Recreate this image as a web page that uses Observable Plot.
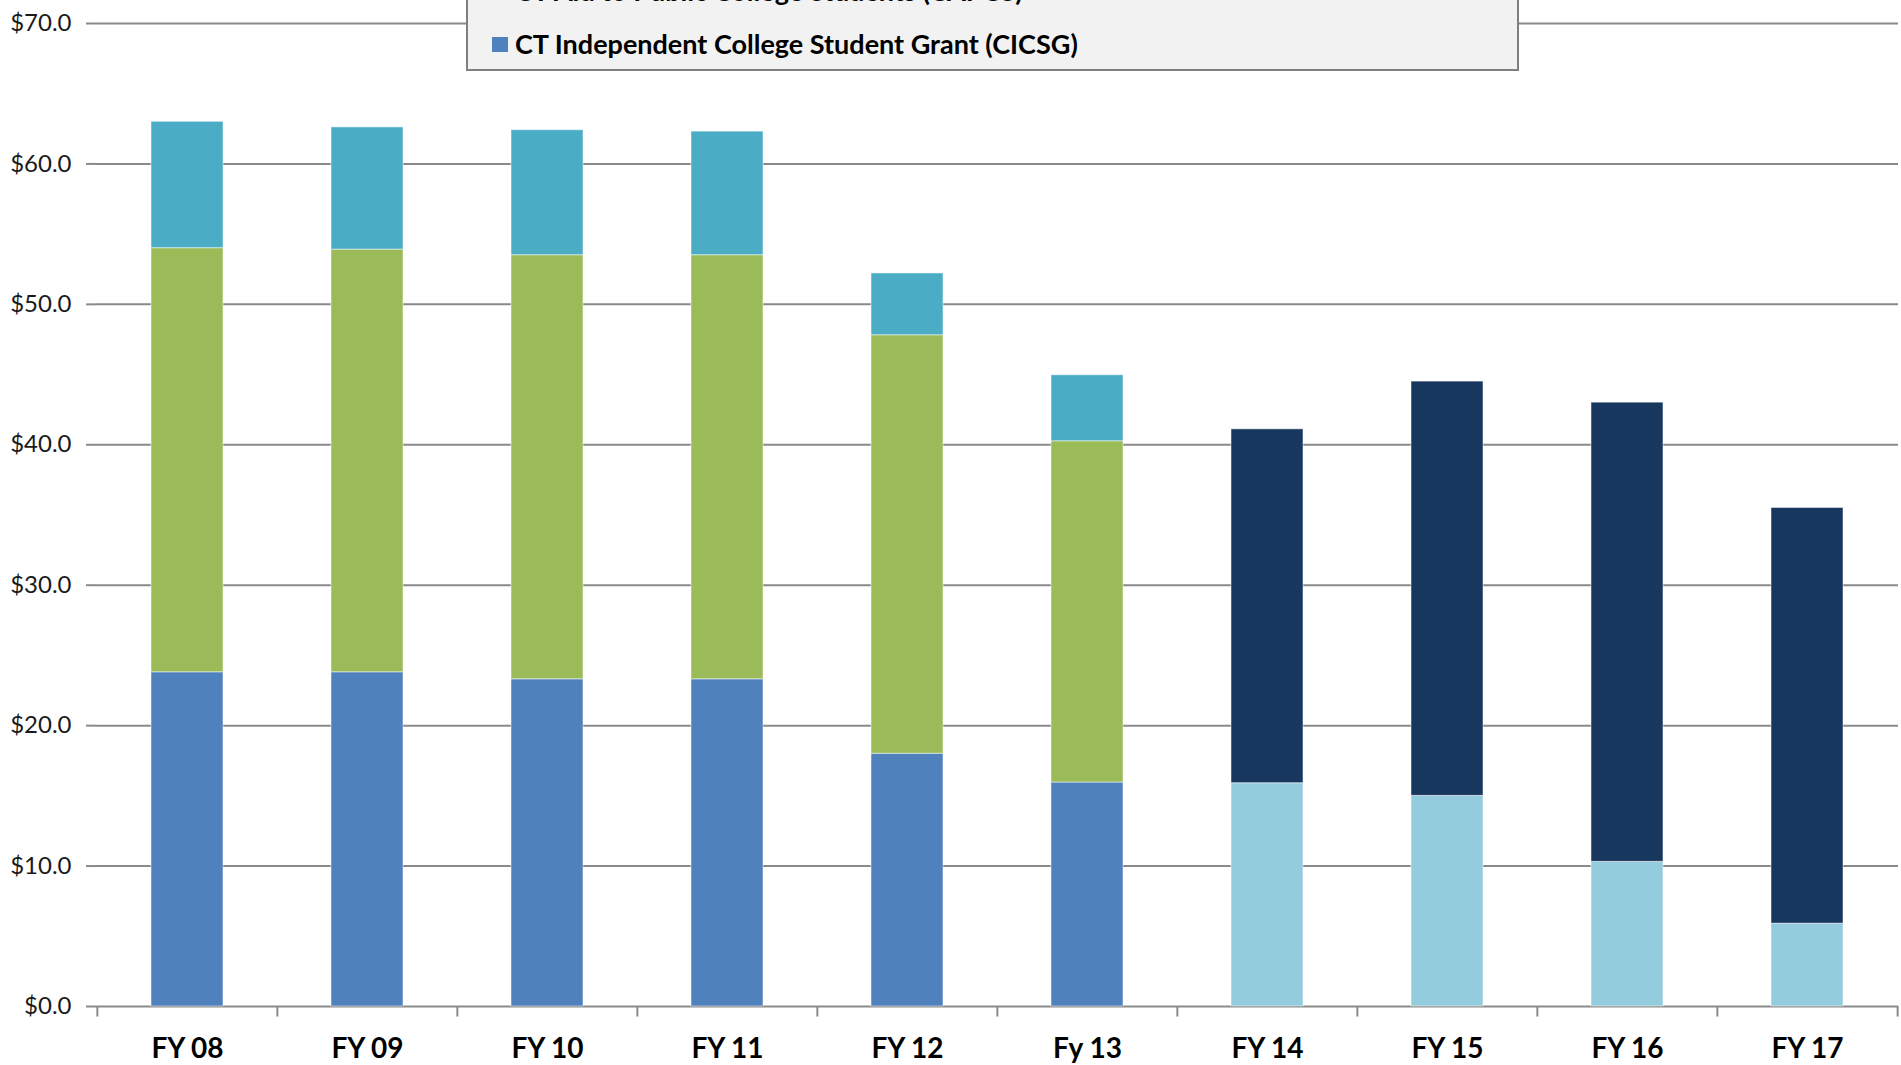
<!DOCTYPE html>
<html>
<head>
<meta charset="utf-8">
<script src="https://cdn.jsdelivr.net/npm/d3@7"></script>
<script src="https://cdn.jsdelivr.net/npm/@observablehq/plot@0.6"></script>
<style>
  html, body { margin: 0; padding: 0; background: #fff; overflow: hidden; }
  #wrap { position: relative; width: 1901px; height: 1065px; overflow: hidden; }
  #legend { position: absolute; left: 0; top: 0; }
</style>
</head>
<body>
<div id="wrap"></div>
<script>
// ---- data ----
const years = ["FY 08", "FY 09", "FY 10", "FY 11", "FY 12", "Fy 13", "FY 14", "FY 15", "FY 16", "FY 17"];
const seriesNames = [
  "CT Independent College Student Grant (CICSG)",
  "CT Aid to Public College Students (CAPCS)",
  "Capitol Scholarship",
  "Governor's Scholarship (part A)",
  "Governor's Scholarship (part B)"
];
const cicsg   = [23.8, 23.8, 23.3, 23.3, 18.0, 15.95, 0, 0, 0, 0];
const capcs   = [30.2, 30.1, 30.2, 30.2, 29.8, 24.3, 0, 0, 0, 0];
const capitol = [9.0, 8.7, 8.9, 8.8, 4.4, 4.7, 0, 0, 0, 0];
const govA    = [0, 0, 0, 0, 0, 0, 15.9, 15.0, 10.3, 5.9];
const govB    = [0, 0, 0, 0, 0, 0, 25.2, 29.5, 32.7, 29.6];
const seriesColors = ["#4F81BD", "#9BBB59", "#4BACC6", "#93CDDD", "#17375E"];
const yTicks = [0, 10, 20, 30, 40, 50, 60, 70];
const legendShown = [0, 1]; // bottom-most legend entry first, then the one above it

const seriesValues = [cicsg, capcs, capitol, govA, govB];
const table = [];
seriesValues.forEach((vals, si) => {
  vals.forEach((v, i) => table.push({year: years[i], series: seriesNames[si], value: v}));
});

const W = 1901, H = 1065;
const mL = 95, mR = 3, mT = 23, mB = 59;
const step = (W - mL - mR) / years.length;
const grey = "#8a8a8a";

const chart = Plot.plot({
  width: W,
  height: H,
  marginLeft: mL,
  marginRight: mR,
  marginTop: mT,
  marginBottom: mB,
  style: {background: "#fff", overflow: "visible"},
  x: {domain: years, paddingInner: 0.6, paddingOuter: 0.3, label: null},
  y: {domain: [0, 70], label: null},
  color: {domain: seriesNames, range: seriesColors},
  marks: [
    Plot.gridY(yTicks, {stroke: grey, strokeOpacity: 1, strokeWidth: 2}),
    Plot.barY(table, {
      x: "year", y: "value", fill: "series", order: seriesNames,
      stroke: "#ffffff", strokeOpacity: 0.5, strokeWidth: 1
    }),
    // y axis line
    Plot.ruleX([years[0]], {x: years[0], dx: -step / 2, y1: 0, y2: 70, stroke: grey, strokeWidth: 2}),
    // category boundary ticks
    Plot.ruleX(years, {x: d => d, dx: -step / 2, y1: 0, y2: -0.75, stroke: grey, strokeWidth: 2}),
    Plot.ruleX([years[years.length - 1]], {x: d => d, dx: step / 2, y1: 0, y2: -0.75, stroke: grey, strokeWidth: 2}),
    Plot.axisY({
      ticks: yTicks, tickSize: 9, tickPadding: 15, stroke: grey, strokeWidth: 2,
      tickFormat: d => "$" + d.toFixed(1),
      fontSize: 24, fontFamily: "Lato", fill: "#1a1a1a", label: null
    }),
    Plot.axisX({
      tickSize: 0, tickPadding: 32, fontSize: 28, fontFamily: "Lato", fontWeight: "bold",
      fill: "#000", label: null
    })
  ]
});

const wrap = document.getElementById("wrap");
wrap.appendChild(chart);

// ---- legend (box sits partly above the visible area) ----
const ns = "http://www.w3.org/2000/svg";
const lg = document.createElementNS(ns, "svg");
lg.setAttribute("id", "legend");
lg.setAttribute("width", W);
lg.setAttribute("height", 80);
lg.style.overflow = "visible";
const box = document.createElementNS(ns, "rect");
box.setAttribute("x", 467); box.setAttribute("y", -40);
box.setAttribute("width", 1051); box.setAttribute("height", 110);
box.setAttribute("fill", "#F2F2F2"); box.setAttribute("stroke", "#808080"); box.setAttribute("stroke-width", 2);
lg.appendChild(box);
legendShown.forEach((si, k) => {
  const baseline = 54 - k * 53;
  const sq = document.createElementNS(ns, "rect");
  sq.setAttribute("x", 492); sq.setAttribute("y", baseline - 17);
  sq.setAttribute("width", 16); sq.setAttribute("height", 15);
  sq.setAttribute("fill", seriesColors[si]);
  lg.appendChild(sq);
  const t = document.createElementNS(ns, "text");
  t.setAttribute("x", 515); t.setAttribute("y", baseline);
  t.setAttribute("font-family", "Lato"); t.setAttribute("font-weight", "bold");
  t.setAttribute("font-size", 27); t.setAttribute("fill", "#000");
  t.textContent = seriesNames[si];
  lg.appendChild(t);
});
wrap.appendChild(lg);
</script>
</body>
</html>
